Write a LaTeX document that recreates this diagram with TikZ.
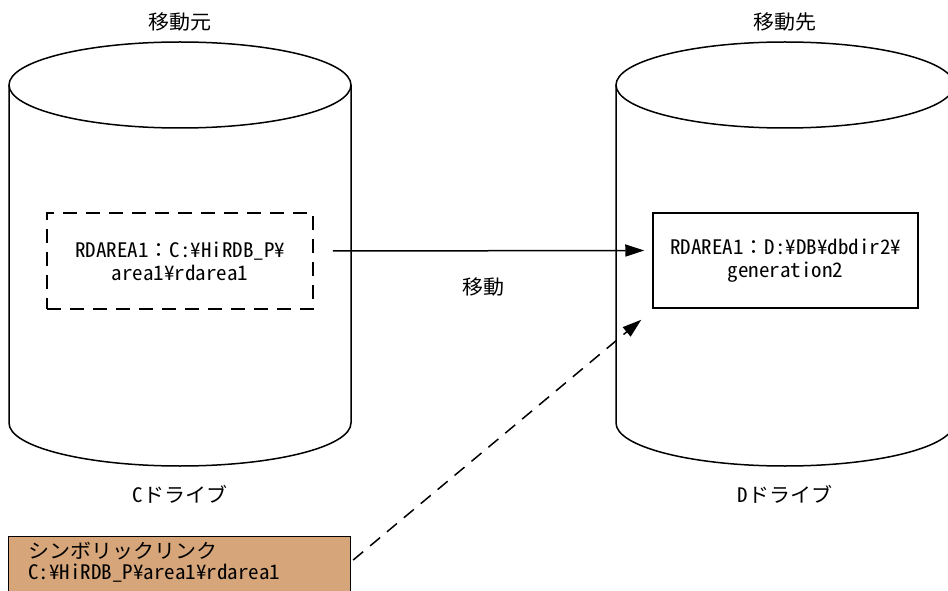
\documentclass[tikz,border=0pt]{standalone}
\usepackage{fontspec}
\newfontfamily\jp[RawFeature=+hwid, FakeStretch=1.05]{Noto Sans CJK JP}
\newfontfamily\jpfw[FakeStretch=1.05]{Noto Sans CJK JP}
\newcommand{\fwcolon}{{\jpfw ：}}
\usetikzlibrary{arrows.meta}
\definecolor{linktan}{RGB}{214,166,122}
\begin{document}
\begin{tikzpicture}[x=1pt,y=1pt,
  every node/.style={font=\jp\fontsize{20pt}{23pt}\selectfont, inner sep=0pt},
  cyl/.style={line width=1.5pt},
  srcbox/.style={draw, line width=1.5pt, dash pattern=on 14pt off 9pt, minimum width=266pt, minimum height=96pt, align=center},
  dstbox/.style={draw, line width=1.5pt, minimum width=265pt, minimum height=95pt, align=center},
  linkbox/.style={draw, line width=1.2pt, fill=linktan, minimum width=342pt, minimum height=70pt, anchor=north west},
  conn/.style={line width=1.5pt, -{Triangle[length=19pt,width=12pt]}},
  dconn/.style={conn, dash pattern=on 13pt off 9pt}
]
\useasboundingbox (0,0) rectangle (948,590);
% left cylinder
\draw[cyl] (180,505) ellipse [x radius=171, y radius=43];
\draw[cyl] (9,505) -- (9,167) arc[start angle=180, end angle=360, x radius=171, y radius=43] -- (351,505);
% right cylinder
\draw[cyl] (785,505) ellipse [x radius=169, y radius=43];
\draw[cyl] (616,505) -- (616,167) arc[start angle=180, end angle=360, x radius=169, y radius=43] -- (954,505);
% labels
\node (srcl) at (180,568) {移動元};
\node (dstl) at (785,568) {移動先};
\node (cdrv) at (180,96) {Cドライブ};
\node (ddrv) at (785,96) {Dドライブ};
% boxes
\node[srcbox] (src) at (180,329) {RDAREA1\fwcolon C:¥HiRDB\_P¥\\area1¥rdarea1};
\node[dstbox] (dst) at (785.5,329.5) {RDAREA1\fwcolon D:¥DB¥dbdir2¥\\generation2};
\node[linkbox] (link) at (8,54) {};
\node[anchor=west, align=left, font=\jp\fontsize{20pt}{21pt}\selectfont] (linkt) at (28,28) {シンボリックリンク\\C:¥HiRDB\_P¥area1¥rdarea1};
% connectors
\draw[conn] ([shift={(19,10)}]src.east) -- ([shift={(-8,10)}]dst.west);
\node (move) at (483,303) {移動};
\draw[dconn] ([shift={(2,-24)}]link.north east) -- ([shift={(-11,-11)}]dst.south west);
\end{tikzpicture}
\end{document}
